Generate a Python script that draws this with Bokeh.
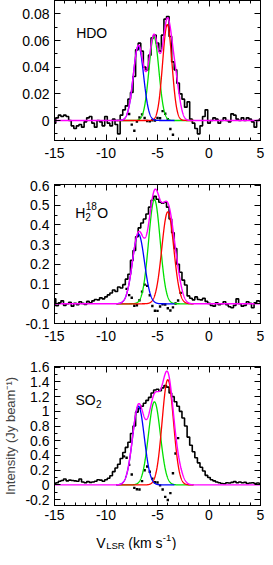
import numpy as np
from bokeh.plotting import figure
from bokeh.models import Range1d, LinearAxis, FixedTicker, CustomJSTickFormatter, Label
from bokeh.layouts import column
from bokeh.embed import file_html
from bokeh.resources import INLINE

# ---------------- data ----------------
channel_velocity = np.linspace(-15.0, 5.0, 81)  # km/s, 0.25 km/s channels

hdo_intensity = [
    -0.002, 0.002, 0.004, 0.003, 0.004, 0.003, 0.000, -0.004, -0.006, -0.004,
    -0.003, -0.005, -0.001, 0.002, 0.003, -0.002, -0.005, 0.000, -0.001, -0.004,
    0.003, -0.002, -0.004, 0.001, -0.003, -0.010, 0.004, 0.008, 0.011, 0.016,
    0.021, 0.033, 0.053, 0.058, 0.052, 0.040, 0.038, 0.049, 0.062, 0.064,
    0.058, 0.052, 0.064, 0.076, 0.078, 0.063, 0.044, 0.038, 0.028, 0.020,
    0.016, 0.010, 0.014, 0.001, -0.002, -0.006, -0.010, -0.004, 0.003, 0.008,
    -0.002, 0.000, 0.002, 0.001, -0.002, 0.000, 0.002, 0.000, -0.001, 0.005,
    0.004, 0.001, 0.000, 0.002, 0.000, 0.002, 0.001, -0.001, -0.005, 0.000,
    0.001]

h218o_intensity = [
    0.025, -0.010, 0.005, 0.015, -0.008, 0.000, 0.008, -0.012, 0.003, -0.005,
    0.010, 0.002, -0.004, 0.012, 0.005, 0.015, 0.022, 0.020, 0.030, 0.025,
    0.035, 0.045, 0.055, 0.070, 0.062, 0.085, 0.080, 0.097, 0.125, 0.150,
    0.220, 0.270, 0.340, 0.385, 0.410, 0.430, 0.455, 0.490, 0.525, 0.545,
    0.530, 0.515, 0.510, 0.515, 0.490, 0.430, 0.360, 0.280, 0.200, 0.160,
    0.120, 0.095, 0.040, 0.028, 0.020, 0.035, 0.022, 0.020, 0.028, 0.012,
    0.002, -0.008, -0.012, 0.005, -0.005, 0.000, 0.010, -0.005, -0.015, -0.020,
    -0.008, 0.025, 0.000, -0.012, -0.008, 0.010, 0.002, -0.020, 0.005, 0.015,
    0.010]

so2_intensity = [
    0.010, 0.030, 0.050, 0.060, 0.080, 0.055, 0.065, 0.060, 0.055, 0.050,
    0.080, 0.040, 0.030, 0.045, 0.035, 0.040, 0.050, 0.070, 0.065, 0.050,
    0.070, 0.090, 0.125, 0.180, 0.230, 0.280, 0.360, 0.440, 0.510, 0.580,
    0.700, 0.800, 0.990, 1.040, 1.070, 1.110, 1.150, 1.190, 1.250, 1.290,
    1.300, 1.280, 1.320, 1.350, 1.330, 1.250, 1.200, 1.130, 1.070, 1.000,
    0.910, 0.800, 0.650, 0.540, 0.450, 0.370, 0.300, 0.240, 0.190, 0.130,
    0.100, 0.070, 0.055, 0.040, 0.030, 0.020, 0.015, 0.030, 0.025, 0.035,
    0.045, 0.030, 0.040, 0.030, 0.035, 0.020, 0.025, 0.030, 0.020, 0.025,
    0.020]

# Gaussian fit components: blue, green, red, (extra wing, only in the total fit)
hdo_amp = [0.056, 0.063, 0.072, 0.025]
hdo_center = [-6.85, -5.35, -4.05, -3.25]
hdo_sigma = [0.50, 0.48, 0.45, 0.40]

h218o_amp = [0.354, 0.529, 0.466, 0.080]
h218o_center = [-6.85, -5.30, -4.00, -3.10]
h218o_sigma = [0.58, 0.56, 0.58, 0.45]

so2_amp = [1.07, 1.13, 1.43, 0.16]
so2_center = [-6.85, -5.30, -4.00, -3.00]
so2_sigma = [0.57, 0.58, 0.55, 0.45]

# residual windows (km/s)
hdo_resid_window = [-7.8, -3.5]
h218o_resid_window = [-8.1, -2.7]
so2_resid_window = [-8.3, -2.8]

x_major_ticks = [-15, -10, -5, 0, 5]
hdo_yticks = [0, 0.02, 0.04, 0.06, 0.08]
h218o_yticks = [-0.1, 0, 0.1, 0.2, 0.3, 0.4, 0.5, 0.6]
so2_yticks = [-0.2, 0, 0.2, 0.4, 0.6, 0.8, 1.0, 1.2, 1.4, 1.6]

FONT = "Liberation Sans"


def gauss(v, a, c, s):
    return a * np.exp(-0.5 * ((v - c) / s) ** 2)


fmt_code = "return String(Math.round(tick*1000)/1000);"


def style_axis(ax, major, minor, show_labels):
    ax.ticker = FixedTicker(ticks=major, minor_ticks=minor)
    ax.major_tick_in = 6
    ax.major_tick_out = 0
    ax.minor_tick_in = 3
    ax.minor_tick_out = 0
    ax.axis_line_color = "black"
    ax.major_tick_line_color = "black"
    ax.minor_tick_line_color = "black"
    if show_labels:
        ax.formatter = CustomJSTickFormatter(code=fmt_code)
        ax.major_label_text_font = FONT
        ax.major_label_text_font_size = "14px"
        ax.major_label_text_color = "black"
    else:
        ax.formatter = CustomJSTickFormatter(code="return '';")
        ax.major_label_text_font_size = "0px"
        ax.major_label_standoff = 0


def add_text(p, x, y, text, size, dx=0, dy=0):
    p.add_layout(Label(x=x, y=y, text=text, x_offset=dx, y_offset=dy,
                       text_font=FONT, text_font_size=f"{size}px",
                       text_baseline="alphabetic", text_align="left",
                       text_color="black"))


def panel(obs, amps, cents, sigs, ylo, yhi, yticks, ystep, rwin,
          fh, top, bottom, xstand):
    p = figure(frame_width=206, frame_height=fh,
               x_range=Range1d(-15, 5), y_range=Range1d(ylo, yhi),
               toolbar_location=None, output_backend="svg",
               min_border_left=49, min_border_right=10,
               min_border_top=top, min_border_bottom=bottom)
    p.grid.visible = False
    p.outline_line_color = "black"
    p.background_fill_color = "white"
    p.border_fill_color = "white"

    x_minor = list(np.arange(-15, 5.01, 1.0))
    y_minor = list(np.round(np.arange(yticks[0] - ystep, yhi + 1e-9, ystep), 4))

    style_axis(p.xaxis[0], x_major_ticks, x_minor, True)
    p.xaxis[0].major_label_standoff = xstand
    style_axis(p.yaxis[0], yticks, y_minor, True)
    p.yaxis[0].major_label_standoff = 5

    ax_top = LinearAxis()
    style_axis(ax_top, x_major_ticks, x_minor, False)
    p.add_layout(ax_top, "above")
    ax_right = LinearAxis()
    style_axis(ax_right, yticks, y_minor, False)
    p.add_layout(ax_right, "right")

    v = np.asarray(channel_velocity)
    o = np.asarray(obs)

    # observed spectrum
    p.step(v, o, mode="center", line_color="black", line_width=1.6)

    # model
    vm = np.linspace(-15, 5, 1601)
    comps = [gauss(vm, a, c, s) for a, c, s in zip(amps, cents, sigs)]
    total = np.sum(comps, axis=0)

    # residuals (observed - total fit)
    model_at_ch = np.sum([gauss(v, a, c, s) for a, c, s in zip(amps, cents, sigs)], axis=0)
    m = (v >= rwin[0]) & (v <= rwin[1])
    p.scatter(v[m], (o - model_at_ch)[m], marker="square", size=2.4,
              color="black", line_width=0)

    # green, red, blue components then total
    gm = (vm >= -9.0) & (vm <= -1.5)
    p.line(vm[gm], comps[1][gm], line_color="#00e000", line_width=1.3)
    p.line(vm[gm], comps[2][gm], line_color="#ff0000", line_width=1.3)
    bm = (vm >= -9.0) & (vm <= cents[0] + 3.5)
    p.line(vm[bm], comps[0][bm], line_color="#0000ff", line_width=1.3)
    p.line(vm, total, line_color="#ff00ff", line_width=1.4)
    return p


p1 = panel(hdo_intensity, hdo_amp, hdo_center, hdo_sigma,
           -0.015, 0.09, hdo_yticks, 0.01, hdo_resid_window, 140, 0, 37, 7)
add_text(p1, -12.9, 0.066, "HDO", 14)

p2 = panel(h218o_intensity, h218o_amp, h218o_center, h218o_sigma,
           -0.1, 0.605, h218o_yticks, 0.05, h218o_resid_window, 139, 7, 36, 7)
add_text(p2, -12.99, 0.458, "H", 14)
add_text(p2, -12.99, 0.458, "2", 10, dx=10, dy=-4)
add_text(p2, -12.99, 0.458, "18", 10, dx=10.5, dy=7)
add_text(p2, -12.99, 0.458, "O", 14, dx=22)

p3 = panel(so2_intensity, so2_amp, so2_center, so2_sigma,
           -0.28, 1.61, so2_yticks, 0.1, so2_resid_window, 139, 7, 20, 4)
add_text(p3, -12.96, 1.148, "SO", 14)
add_text(p3, -12.96, 1.148, "2", 10, dx=20.5, dy=-4)

p3.yaxis[0].axis_label = "Intensity (Jy beam\u207b\u00b9)"
p3.yaxis[0].axis_label_text_font = FONT
p3.yaxis[0].axis_label_text_font_size = "13px"
p3.yaxis[0].axis_label_text_font_style = "normal"
p3.yaxis[0].axis_label_standoff = 4

# x-axis title strip: V_LSR (km s^-1)
p4 = figure(frame_width=206, frame_height=25,
            x_range=Range1d(-15, 5), y_range=Range1d(0, 25),
            toolbar_location=None, output_backend="svg",
            min_border_left=49, min_border_right=10,
            min_border_top=0, min_border_bottom=0,
            x_axis_type=None, y_axis_type=None)
p4.grid.visible = False
p4.outline_line_color = None
p4.background_fill_color = "white"
p4.border_fill_color = "white"

xl_x = -10.95
xl_y = 8
add_text(p4, xl_x, xl_y, "V", 14)
add_text(p4, xl_x, xl_y, "LSR", 9.5, dx=10, dy=-3)
add_text(p4, xl_x, xl_y, "(km s", 14, dx=32)
add_text(p4, xl_x, xl_y, "-1", 9.5, dx=66.5, dy=5)
add_text(p4, xl_x, xl_y, ")", 14, dx=75.5)

layout = column(p1, p2, p3, p4)
open("out.html", "w").write(file_html(layout, INLINE))
